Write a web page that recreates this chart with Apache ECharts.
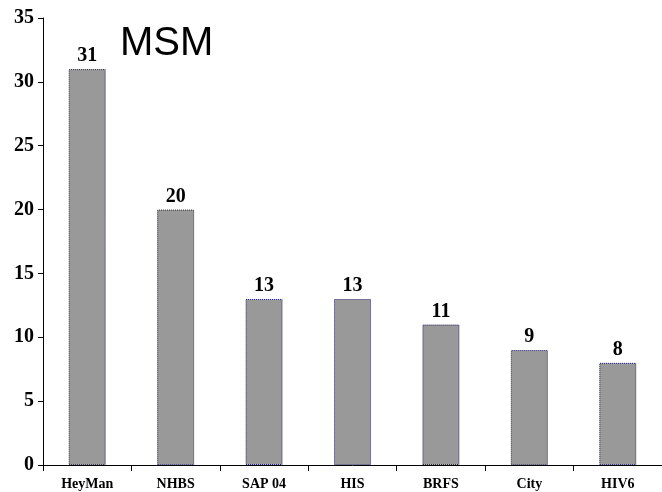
<!DOCTYPE html>
<html>
<head>
<meta charset="utf-8">
<script src="https://cdn.jsdelivr.net/npm/echarts@6/dist/echarts.min.js"></script>
<style>
  html, body { margin: 0; padding: 0; background: #fff; }
  #chart { width: 662px; height: 492px; }
</style>
</head>
<body>
<div id="chart"></div>
<script>
// Survey sources and the value reported by each
const categories = ['HeyMan', 'NHBS', 'SAP 04', 'HIS', 'BRFS', 'City', 'HIV6'];
const values = [31, 20, 13, 13, 11, 9, 8];
const yTicks = { min: 0, max: 35, interval: 5 };

const serif = '"Liberation Serif", "Times New Roman", serif';

const chart = echarts.init(document.getElementById('chart'), null, { renderer: 'canvas' });
chart.setOption({
  animation: false,
  backgroundColor: '#ffffff',
  title: {
    text: 'MSM',
    left: 115,
    top: 19,
    textStyle: {
      fontFamily: '"Liberation Sans", Arial, sans-serif',
      fontWeight: 'normal',
      fontSize: 40,
      color: '#000'
    }
  },
  grid: { left: 43, right: 0, top: 18, bottom: 27, containLabel: false },
  xAxis: {
    type: 'category',
    data: categories,
    axisLine: { lineStyle: { color: '#000', width: 1 } },
    axisTick: { show: true, length: 6, lineStyle: { color: '#000' } },
    axisLabel: {
      margin: 12,
      fontFamily: serif,
      fontWeight: 'bold',
      fontSize: 14,
      color: '#000'
    },
    splitLine: { show: false }
  },
  yAxis: {
    type: 'value',
    min: yTicks.min,
    max: yTicks.max,
    interval: yTicks.interval,
    axisLine: { show: true, lineStyle: { color: '#000', width: 1 } },
    axisTick: { show: true, length: 5, lineStyle: { color: '#000' } },
    axisLabel: {
      margin: 9,
      fontFamily: serif,
      fontWeight: 'bold',
      fontSize: 20,
      color: '#000'
    },
    splitLine: { show: false }
  },
  series: [{
    type: 'bar',
    data: values,
    barWidth: 37,
    itemStyle: {
      color: '#999999',
      borderColor: '#1c1c5c',
      borderWidth: 1,
      borderType: [1, 1]
    },
    label: {
      show: true,
      position: 'top',
      distance: 3,
      fontFamily: serif,
      fontWeight: 'bold',
      fontSize: 20,
      color: '#000'
    }
  }]
});
</script>
</body>
</html>
